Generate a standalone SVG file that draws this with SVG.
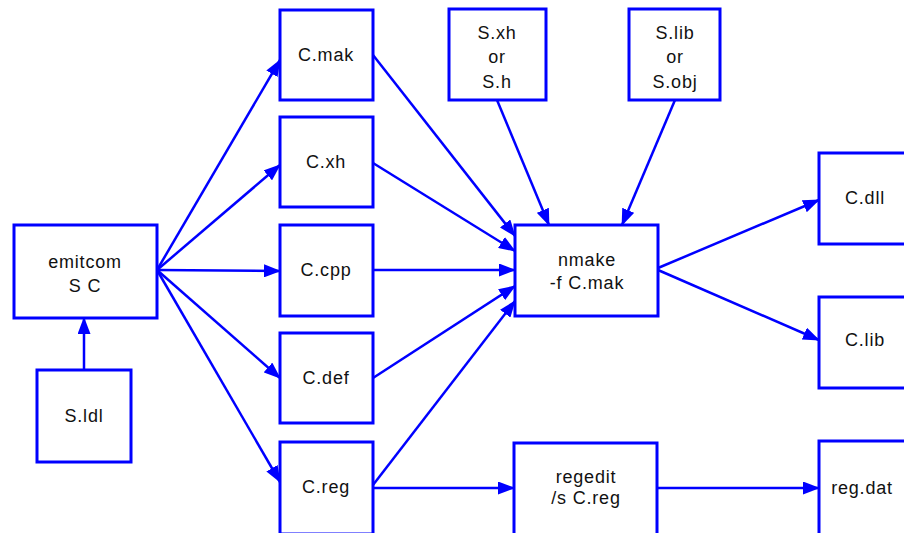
<svg xmlns="http://www.w3.org/2000/svg" width="904" height="533" viewBox="0 0 904 533">
<style>
.box{fill:#fff;stroke:#0000ff;stroke-width:3}
.lbl{font-family:"Liberation Sans",Arial,sans-serif;font-size:18px;fill:#111;text-anchor:middle;letter-spacing:0.8px}
.edge{stroke:#0000ff;stroke-width:2.5;fill:none;marker-end:url(#ah)}
</style>
<defs>
<marker id="ah" markerUnits="userSpaceOnUse" markerWidth="17" markerHeight="13" refX="16" refY="6.5" orient="auto">
<path d="M0,0 L17,6.5 L0,13 Z" fill="#0000ff"/>
</marker>
</defs>
<rect width="904" height="533" fill="#fff"/>
<g id="connectors">
<line class="edge" x1="84" y1="370" x2="84" y2="318"/>
<line class="edge" x1="157" y1="270" x2="280" y2="60"/>
<line class="edge" x1="157" y1="270" x2="280" y2="165"/>
<line class="edge" x1="157" y1="270" x2="280" y2="271"/>
<line class="edge" x1="157" y1="270" x2="280" y2="378"/>
<line class="edge" x1="157" y1="270" x2="280" y2="482"/>
<line class="edge" x1="373" y1="55" x2="515" y2="236"/>
<line class="edge" x1="373" y1="163" x2="515" y2="251"/>
<line class="edge" x1="373" y1="270" x2="515" y2="270"/>
<line class="edge" x1="373" y1="378" x2="515" y2="286"/>
<line class="edge" x1="373" y1="485" x2="515" y2="301"/>
<line class="edge" x1="497" y1="100" x2="549" y2="225"/>
<line class="edge" x1="675" y1="100" x2="622" y2="225"/>
<line class="edge" x1="658" y1="268" x2="819" y2="200"/>
<line class="edge" x1="658" y1="270" x2="819" y2="340"/>
<line class="edge" x1="373" y1="488" x2="514" y2="488"/>
<line class="edge" x1="657" y1="488" x2="819" y2="488"/>
</g>
<g id="n-emitcom"><rect class="box" x="14" y="225" width="143" height="93"/><text class="lbl" x="85" y="268">emitcom</text><text class="lbl" x="85" y="292">S C</text></g>
<g id="n-sidl"><rect class="box" x="37" y="370" width="94" height="92"/><text class="lbl" x="84" y="422">S.ldl</text></g>
<g id="n-cmak"><rect class="box" x="280" y="10" width="93" height="90"/><text class="lbl" x="326" y="61">C.mak</text></g>
<g id="n-cxh"><rect class="box" x="280" y="117" width="93" height="90"/><text class="lbl" x="326" y="168">C.xh</text></g>
<g id="n-ccpp"><rect class="box" x="280" y="225" width="93" height="91"/><text class="lbl" x="326" y="276">C.cpp</text></g>
<g id="n-cdef"><rect class="box" x="280" y="333" width="93" height="90"/><text class="lbl" x="326" y="384">C.def</text></g>
<g id="n-creg"><rect class="box" x="280" y="442" width="93" height="92"/><text class="lbl" x="326" y="493">C.reg</text></g>
<g id="n-sxh"><rect class="box" x="449" y="9" width="97" height="91"/><text class="lbl" x="497" y="39">S.xh</text><text class="lbl" x="497" y="63">or</text><text class="lbl" x="497" y="88">S.h</text></g>
<g id="n-slib"><rect class="box" x="629" y="9" width="91" height="91"/><text class="lbl" x="675" y="39">S.lib</text><text class="lbl" x="675" y="63">or</text><text class="lbl" x="675" y="88">S.obj</text></g>
<g id="n-nmake"><rect class="box" x="515" y="225" width="143" height="91"/><text class="lbl" x="587" y="266">nmake</text><text class="lbl" x="587" y="289">-f C.mak</text></g>
<g id="n-cdll"><rect class="box" x="819" y="153" width="93" height="91"/><text class="lbl" x="865" y="204">C.dll</text></g>
<g id="n-clib"><rect class="box" x="819" y="297" width="93" height="91"/><text class="lbl" x="865" y="346">C.lib</text></g>
<g id="n-regedit"><rect class="box" x="514" y="443" width="143" height="92"/><text class="lbl" x="586" y="483">regedit</text><text class="lbl" x="586" y="504">/s C.reg</text></g>
<g id="n-regdat"><rect class="box" x="819" y="441" width="93" height="94"/><text class="lbl" x="862" y="494">reg.dat</text></g>
</svg>
